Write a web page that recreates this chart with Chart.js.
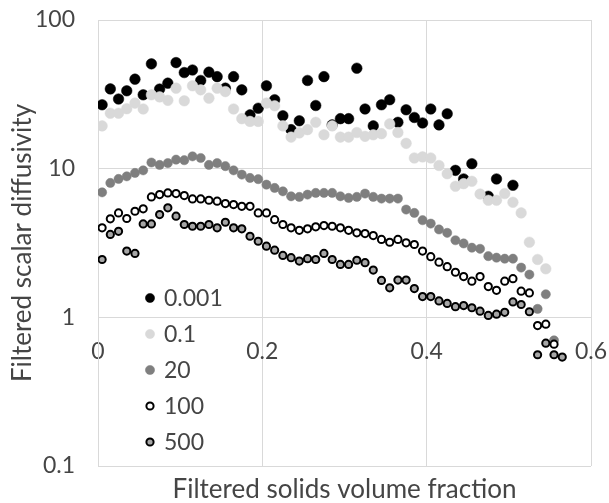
<!DOCTYPE html>
<html>
<head>
<meta charset="utf-8">
<script src="https://cdn.jsdelivr.net/npm/chart.js@4/dist/chart.umd.min.js"></script>
<style>
  html, body { margin: 0; padding: 0; background: #fff; }
  #wrap { width: 609px; height: 503px; }
</style>
</head>
<body>
<div id="wrap"><canvas id="chart"></canvas></div>
<script>
// filtered solids volume fraction (bin centres)
const solidsFraction = [
  0.005, 0.015, 0.025, 0.035, 0.045, 0.055, 0.065, 0.075, 0.085, 0.095,
  0.105, 0.115, 0.125, 0.135, 0.145, 0.155, 0.165, 0.175, 0.185, 0.195,
  0.205, 0.215, 0.225, 0.235, 0.245, 0.255, 0.265, 0.275, 0.285, 0.295,
  0.305, 0.315, 0.325, 0.335, 0.345, 0.355, 0.365, 0.375, 0.385, 0.395,
  0.405, 0.415, 0.425, 0.435, 0.445, 0.455, 0.465, 0.475, 0.485, 0.495,
  0.505, 0.515, 0.525, 0.535, 0.545, 0.555, 0.565
]

const seriesLabels = ['0.001', '0.1', '20', '100', '500']

// filtered scalar diffusivity, one array per series (null = no point)
const diff0001 = [
  26.9, 34.4, 29.4, 33.4, 40.0, 31.4, 50.7, 34.3, 37.6, 51.7,
  44.3, 46.1, 39.2, 44.6, 41.6, 34.8, 41.6, 33.9, 23.0, 25.5,
  36.1, 29.1, 22.7, 18.3, 21.0, 39.2, 26.6, 41.6, 19.7, 21.7,
  21.7, 47.4, 25.2, 19.4, 26.9, 29.1, 20.5, 24.9, 22.1, 20.3,
  25.2, 19.7, 23.4, 9.74, 8.53, 10.8, null, 6.52, 8.53, null,
  7.73
]
const diff01 = [
  19.4, 23.6, 23.6, 25.3, 27.6, 25.2, 31.4, 30.4, 28.8, 34.8,
  28.6, 36.1, 33.9, 29.8, 34.8, 33.0, 25.2, 21.7, 20.8, 20.8,
  27.6, 26.5, 19.4, 16.3, 17.4, 18.3, 20.5, 16.9, 19.4, 16.3,
  16.3, 17.5, 16.5, 16.9, 17.2, 20.0, 17.5, 14.8, 11.8, 12.0,
  11.8, 10.5, 9.25, 7.61, 7.93, 8.22, 6.75, 6.13, 6.13, 6.80,
  5.94, 5.04, 3.20, 2.45, 2.12
]
const diff20 = [
  6.93, 8.02, 8.53, 8.88, 9.36, 9.74, 11.0, 10.6, 10.9, 11.5,
  11.4, 12.1, 11.8, 10.6, 10.9, 10.4, 9.74, 9.12, 8.66, 8.5,
  7.81, 7.42, 7.04, 6.52, 6.46, 6.69, 6.87, 6.87, 6.87, 6.52,
  6.36, 6.46, 6.80, 6.46, 6.29, 6.29, 6.29, 5.31, 5.04, 4.5,
  4.27, 3.90, 3.70, 3.30, 3.14, 2.94, 2.89, 2.58, 2.52, 2.48,
  2.48, 2.16, 1.94, 1.14, 1.43, 0.70
]
const diff100 = [
  4.00, 4.60, 5.04, 4.62, 5.17, 5.37, 6.46, 6.69, 6.87, 6.80,
  6.59, 6.26, 6.26, 6.13, 6.04, 5.82, 5.73, 5.58, 5.58, 5.04,
  5.04, 4.54, 4.21, 4.00, 3.85, 3.94, 4.06, 4.14, 4.10, 4.00,
  3.85, 3.70, 3.66, 3.55, 3.34, 3.20, 3.34, 3.17, 3.09, 2.79,
  2.56, 2.35, 2.19, 2.01, 1.88, 1.75, 1.88, 1.61, 1.52, 1.75,
  1.82, 1.50, 1.46, 0.88, 0.90, 0.66
]
const diff500 = [
  2.45, 3.61, 3.79, 2.79, 2.69, 4.25, 4.25, 4.91, 5.45, 4.79,
  4.21, 4.10, 4.10, 4.21, 4.00, 4.36, 4.00, 3.94, 3.51, 3.25,
  3.01, 2.83, 2.61, 2.52, 2.39, 2.48, 2.45, 2.69, 2.45, 2.27,
  2.27, 2.42, 2.33, 2.08, 1.77, 1.58, 1.78, 1.78, 1.56, 1.38,
  1.38, 1.29, 1.24, 1.18, 1.20, 1.16, 1.10, 1.03, 1.05, 1.08,
  1.27, 1.22, 1.09, 0.56, 0.67, 0.56, 0.54
]

const xTicks = [0, 0.2, 0.4, 0.6]
const yTicks = [0.1, 1, 10, 100]

const textColor = '#454545'
const gridColor = '#d9d9d9'
const fontFamily = 'Lato, "Open Sans", sans-serif'

function toPoints(values) {
  const pts = []
  values.forEach((v, i) => {
    if (v !== null) pts.push({ x: solidsFraction[i], y: v })
  })
  return pts
}

const styles = [
  { bg: '#000000', border: '#000000', radius: 5.3, width: 0.5, legendRadius: 4.6 },
  { bg: '#d9d9d9', border: '#d9d9d9', radius: 5.3, width: 0.5, legendRadius: 4.6 },
  { bg: '#7f7f7f', border: '#7f7f7f', radius: 4.6, width: 0.5, legendRadius: 4.6 },
  { bg: '#ffffff', border: '#000000', radius: 3.6, width: 2, legendRadius: 3.6 },
  { bg: '#a6a6a6', border: '#000000', radius: 3.6, width: 2, legendRadius: 3.6 },
]
const seriesValues = [diff0001, diff01, diff20, diff100, diff500]

// legend drawn inside the plot area, left side
const insideLegend = {
  id: 'insideLegend',
  afterDraw(chart, args, opts) {
    const ctx = chart.ctx
    const area = chart.chartArea
    ctx.save()
    ctx.font = opts.font
    ctx.textBaseline = 'middle'
    ctx.textAlign = 'left'
    chart.data.datasets.forEach((ds, i) => {
      const x = area.left + opts.offsetX
      const y = area.top + opts.offsetY + i * opts.rowHeight
      ctx.beginPath()
      ctx.arc(x, y, styles[i].legendRadius, 0, Math.PI * 2)
      ctx.fillStyle = ds.backgroundColor
      ctx.fill()
      ctx.lineWidth = ds.borderWidth
      ctx.strokeStyle = ds.borderColor
      ctx.stroke()
      ctx.fillStyle = textColor
      ctx.fillText(ds.label, x + opts.textGap, y + 1)
    })
    ctx.restore()
  }
}

const datasets = seriesValues.map((vals, i) => ({
  label: seriesLabels[i],
  data: toPoints(vals),
  backgroundColor: styles[i].bg,
  borderColor: styles[i].border,
  borderWidth: styles[i].width,
  pointRadius: styles[i].radius,
  pointHoverRadius: styles[i].radius,
  showLine: false,
  order: seriesValues.length - i,
}))

new Chart(document.getElementById('chart'), {
  type: 'scatter',
  data: { datasets },
  plugins: [insideLegend],
  options: {
    responsive: true,
    maintainAspectRatio: false,
    animation: false,
    layout: { padding: { top: 20, right: 18, bottom: 0, left: 7 } },
    plugins: {
      legend: { display: false },
      tooltip: { enabled: false },
      title: {
        display: true,
        position: 'bottom',
        fullSize: false,
        text: 'Filtered solids volume fraction',
        color: textColor,
        font: { family: fontFamily, size: 26, weight: 'normal', lineHeight: 1.0 },
        padding: { top: 11, bottom: 0 },
      },
      insideLegend: {
        font: '23px ' + fontFamily,
        offsetX: 52,
        offsetY: 278,
        rowHeight: 36,
        textGap: 14,
      },
    },
    scales: {
      x: {
        type: 'linear',
        position: { y: 1 },
        min: 0,
        max: 0.6,
        afterBuildTicks: s => { s.ticks = xTicks.map(v => ({ value: v })) },
        // labels may overhang the plot edge, do not shrink the plot for them
        afterFit: s => { s.paddingLeft = 0; s.paddingRight = 0 },
        ticks: {
          color: textColor,
          font: { family: fontFamily, size: 23 },
          padding: 20,
          callback: v => String(+v.toFixed(1)),
        },
        grid: { color: gridColor, lineWidth: 1, drawTicks: false },
        border: { color: gridColor },
      },
      y: {
        type: 'logarithmic',
        min: 0.1,
        max: 100,
        afterBuildTicks: s => { s.ticks = yTicks.map(v => ({ value: v })) },
        afterFit: s => { s.width = 91; s.paddingTop = 0; s.paddingBottom = 0 },
        ticks: {
          color: textColor,
          font: { family: fontFamily, size: 23 },
          padding: 23,
          callback: v => String(v),
        },
        grid: { color: gridColor, lineWidth: 1, drawTicks: false },
        border: { color: gridColor },
        title: {
          display: true,
          text: 'Filtered scalar diffusivity',
          color: textColor,
          font: { family: fontFamily, size: 26, lineHeight: 1.2 },
          padding: { top: 0, bottom: 0 },
        },
      },
    },
  },
})
</script>
</body>
</html>
